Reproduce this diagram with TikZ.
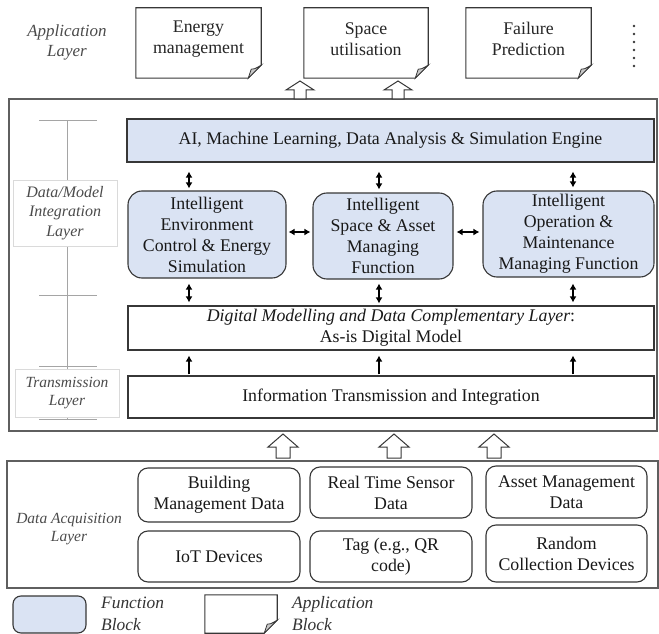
\documentclass[tikz,border=0pt]{standalone}
\usepackage{fontspec}
\setmainfont{Liberation Serif}
\usetikzlibrary{arrows.meta}
\definecolor{fblue}{RGB}{218,227,243}
\definecolor{linecol}{RGB}{55,55,55}
\definecolor{framecol}{RGB}{95,95,95}
\definecolor{labcol}{RGB}{75,75,75}
\definecolor{scalecol}{RGB}{165,165,165}
\definecolor{labbox}{RGB}{218,218,218}
\definecolor{foldcol}{RGB}{200,200,200}
\newcommand{\hollowup}[6]{%
  \draw[hollow] ({#1-#6},#2) -- ({#1-#6},#4) -- ({#1-#5},#4) -- (#1,#3) -- ({#1+#5},#4) -- ({#1+#6},#4) -- ({#1+#6},#2) -- cycle;}
\newcommand{\appshape}[1]{%
  \draw[linecol, line width=1.1pt, fill=white] (#1.north west) -- (#1.north east) -- ([yshift=13pt]#1.south east) -- ([xshift=-13pt]#1.south east) -- (#1.south west) -- cycle;
  \draw[linecol, line width=0.8pt, fill=foldcol] ([yshift=13pt]#1.south east) .. controls ([xshift=-7pt,yshift=9pt]#1.south east) .. ([xshift=-10pt,yshift=9pt]#1.south east) -- ([xshift=-13pt]#1.south east) -- cycle;}
\begin{document}
\begin{tikzpicture}[x=1pt,y=-1pt,
  txt/.style={font=\fontsize{17.8}{21}\selectfont, text=black!90, align=center},
  frame/.style={draw=framecol, line width=1.4pt, inner sep=0pt},
  plainbox/.style={draw=linecol, line width=1.1pt, fill=white, inner sep=0pt, txt},
  funcbox/.style={plainbox, fill=fblue, rounded corners=14pt},
  databox/.style={plainbox, rounded corners=10pt},
  appbox/.style={inner sep=0pt, minimum width=125pt, minimum height=70pt},
  layerlab/.style={font=\itshape\fontsize{16}{19.5}\selectfont, text=labcol, align=center},
  leglab/.style={font=\itshape\fontsize{17.4}{22}\selectfont, text=black!80, align=left, anchor=west, inner sep=0pt},
  dbl/.style={line width=1.8pt, {Latex[length=6pt,width=7pt]}-{Latex[length=6pt,width=7pt]}},
  sgl/.style={line width=1.8pt, -{Latex[length=6pt,width=7pt]}},
  hollow/.style={draw=linecol, line width=1pt, fill=white},
]
\useasboundingbox (0,0) rectangle (659,634);

% ---------- application layer ----------
\node[font=\itshape\fontsize{17}{20}\selectfont, text=labcol, align=center] (applab) at (67,42) {Application\\Layer};
\node[appbox] (e) at (198.5,43) {};
\node[appbox, minimum width=124pt] (s) at (366,43) {};
\node[appbox] (fp) at (528.5,43) {};
\appshape{e}
\appshape{s}
\appshape{fp}
\node[txt, text=black!85] (etxt) at ([yshift=4pt]e.center) {Energy\\management};
\node[txt, text=black!85] (stxt) at ([yshift=4pt]s.center) {Space\\utilisation};
\node[txt, text=black!85] (ftxt) at ([yshift=4pt]fp.center) {Failure\\Prediction};
\foreach \yy in {26,34,...,66} \fill[linecol] (634,\yy) circle (1.4);

% ---------- main frame ----------
\node[frame, minimum width=648pt, minimum height=332pt] (main) at (333,265) {};
\hollowup{300}{99}{81}{90}{14}{6}
\hollowup{398}{99}{81}{90}{14}{6}

% scale on the left
\draw[scalecol, line width=1pt] (67,120) -- (67,419);
\foreach \yy in {120,295,366,419} \draw[scalecol, line width=1pt] (39,\yy) -- (97,\yy);
\node[layerlab, draw=labbox, fill=white, line width=0.8pt, minimum width=104pt, minimum height=66pt, inner sep=0pt] (dmlab) at (65,213) {Data/Model\\Integration\\Layer};
\node[layerlab, font=\itshape\fontsize{15.5}{18}\selectfont, draw=labbox, fill=white, line width=0.8pt, minimum width=104pt, minimum height=48pt, inner sep=0pt] (tlab) at (67,393) {Transmission\\Layer};

% boxes
\node[plainbox, fill=fblue, minimum width=527pt, minimum height=43pt] (ai) at (390.5,140.5) {AI, Machine Learning, Data Analysis \& Simulation Engine};
\node[funcbox, minimum width=158pt, minimum height=87pt] (f1) at (207,234.5) {Intelligent\\Environment\\Control \& Energy\\Simulation};
\node[funcbox, minimum width=140pt, minimum height=86pt] (f2) at (383,236) {Intelligent\\Space \& Asset\\Managing\\Function};
\node[funcbox, minimum width=171pt, minimum height=86pt] (f3) at (568.5,234) {Intelligent\\Operation \&\\Maintenance\\Managing Function};
\node[plainbox, minimum width=526pt, minimum height=44pt] (dm) at (391,328) {{\itshape Digital Modelling and Data Complementary Layer}:\\As-is Digital Model};
\node[plainbox, minimum width=526pt, minimum height=42pt] (it) at (391,397) {Information Transmission and Integration};

\coordinate (cx1) at (189,0);
\coordinate (cx2) at (379,0);
\coordinate (cx3) at (573,0);
\coordinate (cy) at (0,232);

\draw[dbl, shorten <=9pt, shorten >=2pt] (ai.south -| cx1) -- (f1.north -| cx1);
\draw[dbl, shorten <=9pt, shorten >=3pt] (ai.south -| cx2) -- (f2.north -| cx2);
\draw[dbl, shorten <=9pt, shorten >=3pt] (ai.south -| cx3) -- (f3.north -| cx3);
\draw[dbl, shorten <=5pt, shorten >=3pt] (f1.south -| cx1) -- (dm.north -| cx1);
\draw[dbl, shorten <=4pt, shorten >=2pt] (f2.south -| cx2) -- (dm.north -| cx2);
\draw[dbl, shorten <=6pt, shorten >=3pt] (f3.south -| cx3) -- (dm.north -| cx3);
\draw[dbl, shorten <=2pt, shorten >=2pt] (f1.east |- cy) -- (f2.west |- cy);
\draw[dbl, shorten <=3pt, shorten >=3pt] (f2.east |- cy) -- (f3.west |- cy);
\draw[sgl, shorten <=1pt, shorten >=5pt] (it.north -| cx1) -- (dm.south -| cx1);
\draw[sgl, shorten <=1pt, shorten >=5pt] (it.north -| cx2) -- (dm.south -| cx2);
\draw[sgl, shorten <=1pt, shorten >=5pt] (it.north -| cx3) -- (dm.south -| cx3);

% ---------- data acquisition ----------
\hollowup{283}{458}{434}{447}{15}{7}
\hollowup{394}{458}{434}{447}{15}{7}
\hollowup{494}{458}{434}{447}{15}{7}
\node[frame, minimum width=651pt, minimum height=127pt] (acq) at (332.5,524.5) {};
\node[layerlab, font=\itshape\fontsize{15.5}{18}\selectfont] (acqlab) at (69,529) {Data Acquisition\\Layer};
\node[databox, minimum width=162pt, minimum height=54pt] (bm) at (219,495) {Building\\Management Data};
\node[databox, minimum width=162pt, minimum height=51pt] (iot) at (219,556.5) {IoT Devices};
\node[databox, minimum width=162pt, minimum height=51pt] (rts) at (391,492.5) {Real Time Sensor\\Data};
\node[databox, minimum width=162pt, minimum height=51pt] (tag) at (391,556.5) {Tag (e.g., QR\\code)};
\node[databox, minimum width=161pt, minimum height=52pt] (am) at (566.5,492) {Asset Management\\Data};
\node[databox, minimum width=161pt, minimum height=57pt] (rc) at (566.5,553.5) {Random\\Collection Devices};

% ---------- legend ----------
\node[draw=linecol, line width=1.1pt, fill=fblue, rounded corners=8pt, minimum width=73pt, minimum height=37pt, inner sep=0pt] (lf) at (49.5,614.5) {};
\node[leglab] (lftxt) at (101,614) {Function\\Block};
\node[inner sep=0pt, minimum width=72pt, minimum height=38pt] (la) at (241,614) {};
\appshape{la}
\node[leglab] (latxt) at (292,614) {Application\\Block};
\end{tikzpicture}
\end{document}
